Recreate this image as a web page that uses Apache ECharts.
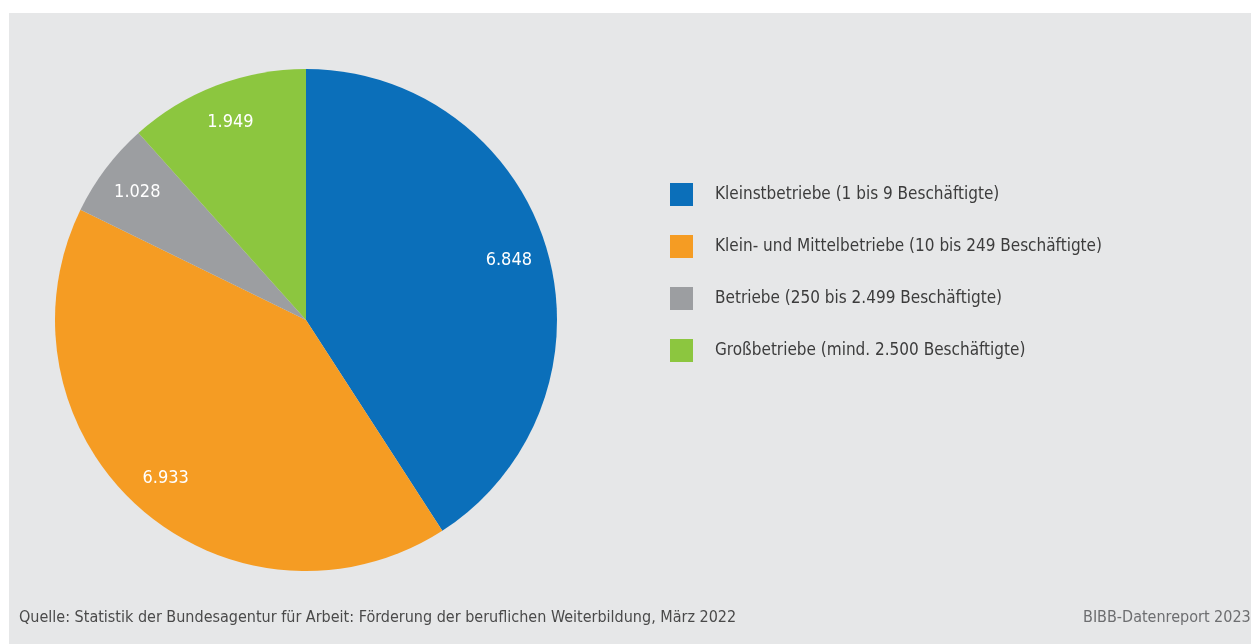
<!DOCTYPE html>
<html><head><meta charset="utf-8">
<script src="https://cdn.jsdelivr.net/npm/echarts@6/dist/echarts.min.js"></script>
<style>html,body{margin:0;padding:0;background:#fff;}#c{width:1251px;height:644px;}</style>
</head><body><div id="c"></div>
<script>
const categories = [
  'Kleinstbetriebe (1 bis 9 Beschäftigte)',
  'Klein- und Mittelbetriebe (10 bis 249 Beschäftigte)',
  'Betriebe (250 bis 2.499 Beschäftigte)',
  'Großbetriebe (mind. 2.500 Beschäftigte)'
];
const values = [6848, 6933, 1028, 1949];
const colors = ['#0b6fba', '#f59c23', '#9c9ea1', '#8cc63f'];
const source = 'Quelle: Statistik der Bundesagentur für Arbeit: Förderung der beruflichen Weiterbildung, März 2022';
const credit = 'BIBB-Datenreport 2023';

const FONT = 'DejaVu Sans Condensed';
const fmt = v => String(v).replace(/\B(?=(\d{3})+(?!\d))/g, '.');
const data = categories.map((n, i) => ({ name: n, value: values[i], itemStyle: { color: colors[i] } }));

const chart = echarts.init(document.getElementById('c'), null, { renderer: 'canvas' });
chart.setOption({
  backgroundColor: '#ffffff',
  animation: false,
  graphic: [
    { type: 'rect', left: 9, top: 13, shape: { width: 1242, height: 631 }, style: { fill: '#e6e7e8' }, z: -10 },
    { type: 'text', left: 19, top: 610, style: { text: source, fill: '#4a4a4a', font: '16px "' + FONT + '"' } },
    { type: 'text', left: 1083, top: 610, style: { text: credit, fill: '#6d6e70', font: '16px "' + FONT + '"' } }
  ],
  legend: {
    orient: 'vertical', left: 665, top: 178,
    itemWidth: 23, itemHeight: 23, itemGap: 29, icon: 'rect',
    textStyle: { fontFamily: FONT, fontSize: 17, color: '#3c3c3c', padding: [0, 0, 0, 17] },
    selectedMode: false,
    data: categories
  },
  series: [
    {
      type: 'pie', center: [306, 320], radius: [0, 251], startAngle: 90, clockwise: true,
      label: { show: false }, labelLine: { show: false }, silent: true,
      itemStyle: { borderWidth: 0 },
      data: data
    },
    {
      type: 'pie', center: [306, 320], radius: [166, 251], startAngle: 90, clockwise: true,
      silent: true, legendHoverLink: false,
      itemStyle: { color: 'rgba(0,0,0,0)', borderWidth: 0 },
      label: { show: true, position: 'inside', color: '#ffffff', fontFamily: FONT, fontSize: 18, formatter: p => fmt(p.value) },
      labelLine: { show: false },
      data: categories.map((n, i) => ({ name: n + ' ', value: values[i] }))
    }
  ]
});
</script></body></html>
